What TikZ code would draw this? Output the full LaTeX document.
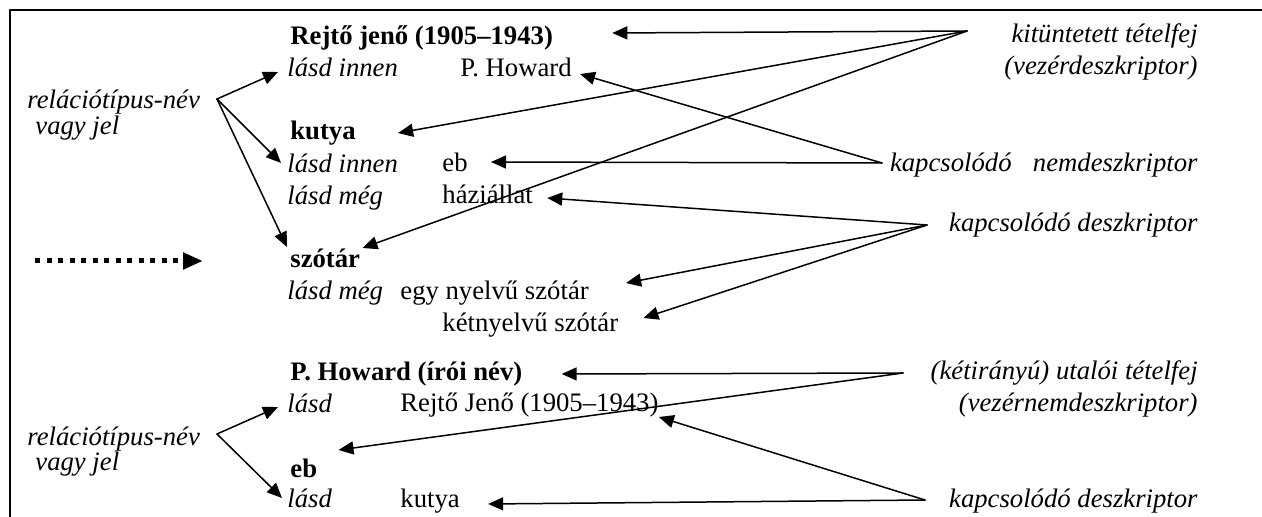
\documentclass[tikz,border=0pt]{standalone}
\usepackage{fontspec}
\setmainfont{Liberation Serif}
\usetikzlibrary{arrows.meta}

\begin{document}
\begin{tikzpicture}[line cap=round,line join=round,x=0.5pt,y=-0.5pt,
	every node/.style={inner sep=0pt,font=\fontsize{13.35pt}{16pt}\selectfont},
	head/.style={anchor=base west,font=\fontsize{13.35pt}{16pt}\selectfont\bfseries},
	rel/.style={anchor=base west,font=\fontsize{13.35pt}{16pt}\selectfont\itshape},
	term/.style={anchor=base west},
	note/.style={anchor=base east,font=\fontsize{13.35pt}{16pt}\selectfont\itshape},
	arr/.style={line width=0.75pt,-{Triangle[length=7.5pt,width=6.5pt]}}]
	\useasboundingbox (0,0) rectangle (1262,517);
	\clip (0,0) rectangle (1262,517);
	% frame
	\draw [line width=1pt] (10,530) -- (10,10.5) -- (1270,10.5);

	% entries
	\node [head] (rejto) at (290,45) {Rejtő jenő (1905–1943)};
	\node [rel] (lasdA) at (287,77) {lásd innen};
	\node [term] (howardT) at (460,77) {P. Howard};
	\node [head] (kutyaH) at (290,140) {kutya};
	\node [rel] (lasdB) at (287,173) {lásd innen};
	\node [term] (ebT) at (442,172) {eb};
	\node [rel] (lasdC) at (287,205) {lásd még};
	\node [term] (hazi) at (442,204) {háziállat};
	\node [head] (szotar) at (290,268) {szótár};
	\node [rel] (lasdD) at (287,300) {lásd még};
	\node [term] (egy) at (400,300) {egy nyelvű szótár};
	\node [term] (ketnyelvu) at (442,332) {kétnyelvű szótár};
	\node [head] (howardH) at (290,381) {P. Howard (írói név)};
	\node [rel] (lasdE) at (287,413) {lásd};
	\node [term] (rejtoT) at (400,412) {Rejtő Jenő (1905–1943)};
	\node [head] (ebH) at (290,477) {eb};
	\node [rel] (lasdF) at (287,508) {lásd};
	\node [term] (kutyaT) at (400,508) {kutya};

	% left labels
	\node [rel] (relA) at (27,109) {relációtípus-név};
	\node [rel] (vagyA) at (35,135) {vagy jel};
	\node [rel] (relB) at (27,445) {relációtípus-név};
	\node [rel] (vagyB) at (35,471) {vagy jel};

	% right labels
	\node [note] (kit) at (1198,43) {kitüntetett tételfej};
	\node [note] (vezer) at (1198,75) {(vezérdeszkriptor)};
	\node [note] (nemd) at (1198,172) {kapcsolódó\hspace{0.8em}nemdeszkriptor};
	\node [note] (kapA) at (1198,232) {kapcsolódó deszkriptor};
	\node [note] (utaloi) at (1198,380) {(kétirányú) utalói tételfej};
	\node [note] (vezernem) at (1198,412) {(vezérnemdeszkriptor)};
	\node [note] (kapB) at (1198,507) {kapcsolódó deszkriptor};

	% meeting points of the arrows
	\coordinate (kitPt) at (967,31);
	\coordinate (nemPt) at (882,163);
	\coordinate (kapAPt) at (927,225);
	\coordinate (utaloiPt) at (903,373);
	\coordinate (kapBPt) at (925,500);
	\coordinate (relAPt) at (217,99);
	\coordinate (relBPt) at (217,434);

	\draw [arr] (kitPt) -- ([shift={(59,-12)}]rejto.base east);
	\draw [arr] (kitPt) -- ([shift={(42,-7)}]kutyaH.base east);
	\draw [arr] (kitPt) -- ([shift={(2,-20)}]szotar.base east);

	\draw [arr] (nemPt) -- ([shift={(8,-3)}]howardT.base east);
	\draw [arr] (nemPt) -- ([shift={(23,-10)}]ebT.base east);

	\draw [arr] (kapAPt) -- ([shift={(14,-6)}]hazi.base east);
	\draw [arr] (kapAPt) -- ([shift={(37,-17)}]egy.base east);
	\draw [arr] (kapAPt) -- ([shift={(25,-14)}]ketnyelvu.base east);

	\draw [arr] (utaloiPt) -- ([shift={(39,-7)}]howardH.base east);
	\draw [arr] (utaloiPt) -- ([shift={(21,-27)}]ebH.base east);

	\draw [arr] (kapBPt) -- ([shift={(0,5)}]rejtoT.base east);
	\draw [arr] (kapBPt) -- ([shift={(28,-4)}]kutyaT.base east);

	\draw [arr] (relAPt) -- ([shift={(-9,-5)}]lasdA.base west);
	\draw [arr] (relAPt) -- ([shift={(-6,-10)}]lasdB.base west);
	\draw [arr] (relAPt) -- ([shift={(-3,-21)}]szotar.base west);
	\draw [arr] (relBPt) -- ([shift={(-9,-6)}]lasdE.base west);
	\draw [arr] (relBPt) -- ([shift={(-5,-10)}]lasdF.base west);

	% dotted arrow
	\coordinate (dotStart) at (35,261);
	\coordinate (dotEnd) at (203,261);
	\draw [line width=2.5pt,line cap=butt,dash pattern=on 2.5pt off 3.25pt,
		-{Triangle[length=10pt,width=8pt]}] (dotStart) -- (dotEnd);
\end{tikzpicture}
\end{document}
